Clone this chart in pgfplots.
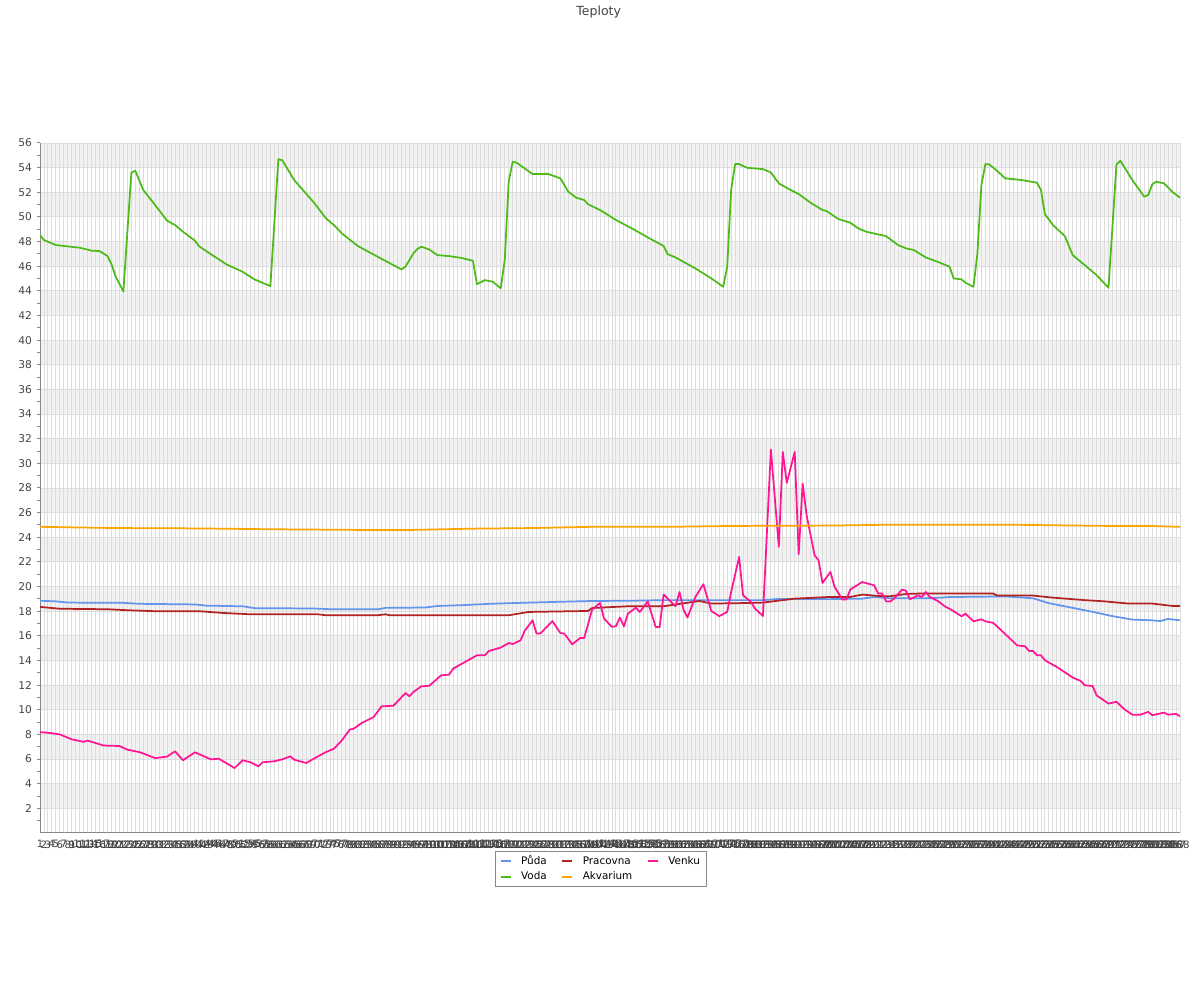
\documentclass[border=0pt]{standalone}
\usepackage{fontspec}
\setmainfont{DejaVu Sans}
\usepackage{pgfplots}
\pgfplotsset{compat=1.18}

\definecolor{puda}{HTML}{6495ED}
\definecolor{voda}{HTML}{4CBB17}
\definecolor{pracovna}{HTML}{B22222}
\definecolor{akvarium}{HTML}{FFA500}
\definecolor{venku}{HTML}{FF1493}
\definecolor{textgray}{HTML}{444444}
\definecolor{axisgray}{HTML}{888888}
\definecolor{gridgray}{HTML}{DDDDDD}
\definecolor{bandgray}{HTML}{F2F2F2}

\begin{document}
\begin{tikzpicture}
\node[font=\fontsize{9.4}{11}\selectfont, text=textgray] at (449pt,741pt) {Teploty};
\begin{axis}[
    at={(30pt,125.25pt)}, anchor=south west,
    scale only axis, width=855pt, height=517.5pt,
    set layers,
    xmin=1, xmax=288, ymin=0, ymax=56,
    axis x line=bottom, axis y line=left,
    axis line style={draw=axisgray, line width=0.75pt, -},
    xtick={1,...,288},
    ytick={2,4,...,56},
    minor ytick={1,3,...,55},
    xtick style={draw=none},
    ytick style={draw=axisgray, line width=0.75pt},
    minor tick style={draw=axisgray, line width=0.75pt},
    tick align=outside,
    major tick length=2.5pt, minor tick length=2.5pt,
    grid=major,
    major grid style={draw=gridgray, line width=0.7pt},
    /pgf/number format/assume math mode=true,
    xticklabel style={font=\fontsize{7.6}{9}\selectfont, text=black!75, inner sep=1pt, yshift=-2pt},
    yticklabel style={font=\fontsize{8}{9}\selectfont, text=textgray},
    legend columns=3,
    legend cell align=left,
    legend style={at={(0.4923,-0.0257)}, anchor=north, draw=axisgray, line width=0.75pt,
        font=\fontsize{7.8}{9}\selectfont, inner xsep=3pt, inner ysep=1.5pt,
        /tikz/every odd column/.append style={column sep=5pt},
        /tikz/every even column/.append style={column sep=9pt}},
    legend image code/.code={\draw[#1, line width=1.5pt] (0pt,0pt) -- (7.5pt,0pt);},
    every axis plot/.append style={line width=1.3pt, line join=round, mark=none},
]

\begin{pgfonlayer}{axis background}
\pgfplotsinvokeforeach{0,...,13}{
  \fill[bandgray] (axis cs:1,{4*#1+2}) rectangle (axis cs:288,{4*#1+4});
}
\end{pgfonlayer}

% Puda
\addplot[puda] coordinates {
(1,18.85) (5,18.8) (8,18.7) (22,18.68) (26,18.6) (40,18.55) (43,18.45) (52,18.4)
(55,18.25) (70,18.22) (75,18.15) (86,18.15) (88,18.27) (98,18.3) (101,18.42)
(108,18.5) (114,18.6) (119,18.65) (130,18.75) (140,18.83) (150,18.85) (158,18.9)
(183,18.9) (187,19.0) (200,18.98) (208,19.02) (211,19.15) (215,19.05) (225,19.05)
(230,19.15) (244,19.2) (251,19.05) (255,18.65) (261,18.27) (266,17.95) (271,17.6)
(276,17.32) (281,17.26) (283,17.2) (285,17.37) (288,17.26)
};
\addlegendentry{Půda}

% Pracovna
\addplot[pracovna] coordinates {
(1,18.35) (6,18.2) (18,18.16) (23,18.08) (30,18.0) (41,18.0) (47,17.86) (54,17.75)
(71,17.75) (73,17.67) (86,17.67) (88,17.75) (89,17.67) (119,17.67) (124,17.94)
(139,18.02) (140,18.26) (149,18.4) (158,18.4) (167,18.83) (170,18.62) (180,18.67)
(183,18.7) (191,19.02) (200,19.16) (205,19.16) (208,19.35) (212,19.24) (215,19.21)
(219,19.4) (222,19.43) (241,19.43) (242,19.27) (251,19.27) (256,19.1) (264,18.9)
(269,18.8) (275,18.62) (281,18.62) (286,18.43) (288,18.43)
};
\addlegendentry{Pracovna}

% Venku
\addplot[venku] coordinates {
(1,8.19) (4,8.1) (6,8.0) (9,7.6) (12,7.4) (13,7.5) (17,7.1) (21,7.06) (23,6.76)
(26,6.57) (30,6.08) (33,6.2) (35,6.63) (37,5.9) (40,6.55) (44,5.98) (46,6.03)
(50,5.27) (52,5.9) (54,5.74) (56,5.41) (57,5.74) (60,5.82) (62,5.98) (64,6.22)
(65,5.95) (68,5.68) (71,6.22) (73,6.57) (75,6.84) (77,7.52) (79,8.39) (80,8.47)
(82,8.93) (85,9.41) (87,10.28) (90,10.33) (93,11.36) (94,11.1) (95,11.44) (97,11.9)
(99,11.95) (102,12.8) (104,12.85) (105,13.34) (108,13.88) (111,14.42) (113,14.42)
(114,14.77) (117,15.05) (119,15.42) (120,15.33) (122,15.64) (123,16.4) (125,17.26)
(126,16.18) (127,16.2) (130,17.2) (132,16.23) (133,16.18) (135,15.31) (137,15.83)
(138,15.83) (140,18.13) (142,18.67) (143,17.4) (145,16.72) (146,16.8) (147,17.48)
(148,16.76) (149,17.8) (151,18.29) (152,17.94) (154,18.8) (156,16.72) (157,16.72)
(158,19.35) (161,18.4) (162,19.56) (163,18.13) (164,17.48) (166,19.16) (168,20.19)
(170,18.02) (172,17.6) (174,17.94) (175,19.56) (177,22.4) (178,19.29) (180,18.75)
(181,18.21) (183,17.61) (185,31.12) (187,23.22) (188,30.93) (189,28.41) (191,30.93)
(192,22.62) (193,28.35) (194,25.79) (196,22.54) (197,22.14) (198,20.29) (200,21.19)
(201,20.0) (203,18.94) (204,18.94) (205,19.76) (208,20.37) (211,20.1) (212,19.43)
(213,19.43) (214,18.8) (215,18.78) (216,19.02) (218,19.75) (219,19.67) (220,18.97)
(222,19.29) (223,19.16) (224,19.56) (225,19.16) (227,18.83) (229,18.35) (230,18.2)
(233,17.59) (234,17.8) (236,17.18) (238,17.34) (239,17.18) (241,17.05) (243,16.45)
(247,15.23) (249,15.15) (250,14.77) (251,14.77) (252,14.42) (253,14.42) (254,14.02)
(257,13.47) (261,12.61) (263,12.34) (264,11.99) (266,11.93) (267,11.17) (270,10.5)
(272,10.65) (274,10.04) (276,9.6) (278,9.6) (280,9.83) (281,9.56) (284,9.77)
(285,9.6) (287,9.67) (288,9.47)
};
\addlegendentry{Venku}

% Voda
\addplot[voda] coordinates {
(1,48.53) (2,48.12) (5,47.72) (7,47.64) (11,47.5) (14,47.26) (16,47.23) (18,46.82)
(19,46.17) (20,45.2) (22,43.95) (23,48.8) (24,53.59) (25,53.75) (27,52.18) (30,50.96)
(33,49.69) (35,49.34) (37,48.8) (40,48.07) (41,47.63) (44,46.98) (48,46.14)
(52,45.55) (55,44.93) (59,44.38) (60,49.5) (61,54.68) (62,54.6) (65,52.99)
(70,51.15) (73,49.88) (75,49.34) (77,48.66) (81,47.64) (86,46.77) (92,45.74)
(93,45.96) (95,47.04) (96,47.4) (97,47.58) (99,47.36) (101,46.9) (104,46.82)
(107,46.68) (110,46.44) (111,44.55) (113,44.87) (115,44.74) (117,44.2) (118,46.5)
(119,52.86) (120,54.48) (121,54.4) (125,53.48) (129,53.48) (132,53.13) (134,52.05)
(136,51.56) (138,51.37) (139,51.02) (142,50.56) (146,49.75) (150,49.07) (154,48.34)
(158,47.64) (159,46.98) (161,46.71) (166,45.82) (170,45.01) (173,44.33) (174,45.95)
(175,52.18) (176,54.29) (177,54.29) (179,53.99) (183,53.88) (185,53.61) (187,52.72)
(190,52.18) (192,51.86) (195,51.15) (198,50.56) (199,50.48) (202,49.83) (205,49.53)
(207,49.07) (209,48.8) (212,48.58) (214,48.45) (215,48.2) (217,47.72) (219,47.45)
(221,47.31) (224,46.71) (227,46.36) (230,45.95) (231,45.01) (233,44.93) (234,44.66)
(236,44.33) (237,47.04) (238,52.59) (239,54.29) (240,54.26) (242,53.72) (244,53.13)
(248,53.0) (252,52.78) (253,52.18) (254,50.2) (255,49.8) (256,49.34) (259,48.45)
(261,46.9) (265,45.82) (267,45.28) (270,44.25) (272,54.26) (273,54.56) (276,52.99)
(279,51.64) (280,51.78) (281,52.64) (282,52.86) (284,52.72) (286,52.05) (288,51.56)
};
\addlegendentry{Voda}

% Akvarium
\addplot[akvarium] coordinates {
(1,24.85) (10,24.8) (20,24.75) (40,24.72) (60,24.65) (80,24.6) (95,24.6) (110,24.7)
(125,24.75) (140,24.85) (160,24.85) (175,24.92) (200,24.95) (215,25.02) (245,25.02)
(255,24.98) (270,24.92) (280,24.92) (288,24.85)
};
\addlegendentry{Akvarium}

\end{axis}
\path (0,0) rectangle (900pt,750pt);
\end{tikzpicture}
\end{document}
